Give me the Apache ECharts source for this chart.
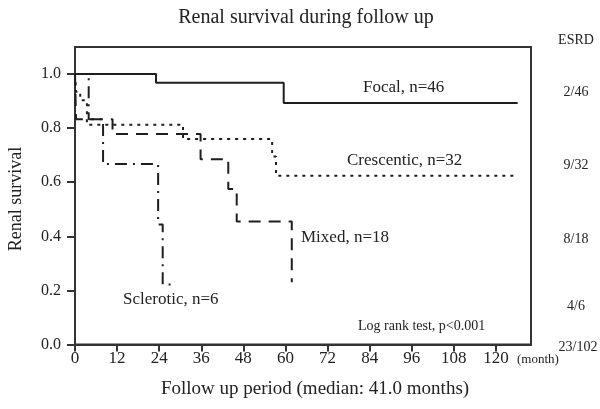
<!DOCTYPE html>
<html>
<head>
<meta charset="utf-8">
<script src="https://cdn.jsdelivr.net/npm/echarts@6/dist/echarts.min.js"></script>
<style>
html,body{margin:0;padding:0;background:#fff;}
#chart{width:600px;height:409px;}
</style>
</head>
<body>
<div id="chart"></div>
<script>
// Kaplan-Meier steps: [month, survival]
var focal = [[0,1.0],[23.1,0.968],[59.5,0.893],[126.2,0.893]];
var crescentic = [[0,1.0],[0.3,0.935],[1.5,0.903],[3.4,0.8125],[30.8,0.76],[56.2,0.695],[57.3,0.624],[126.2,0.624]];
var mixed = [[0,1.0],[0.3,0.833],[10.7,0.778],[35.8,0.685],[43.7,0.575],[46.1,0.455],[61.8,0.23]];
var sclerotic = [[0,1.0],[3.9,0.833],[8.0,0.667],[23.7,0.444],[25.0,0.222],[28.8,0.222]];

var xTicks = [0,12,24,36,48,60,72,84,96,108,120];
var yTicks = [0,0.2,0.4,0.6,0.8,1.0];

var seriesNames = ['Focal, n=46','Crescentic, n=32','Mixed, n=18','Sclerotic, n=6'];
var esrdHeader = 'ESRD';
var esrdLabels = ['2/46','9/32','8/18','4/6','23/102'];
var titleText = 'Renal survival during follow up';
var xName = 'Follow up period (median: 41.0 months)';
var yName = 'Renal survival';
var unitText = '(month)';
var testText = 'Log rank test, p<0.001';

var FONT = '"Liberation Serif", "Times New Roman", serif';
var INK = '#222';

function txt(text, x, y, size, align, extra){
  var o = {type:'text', x:x, y:y, silent:true,
    style:{text:text, fontSize:size, fontFamily:FONT, fill:INK,
      align:align||'left', verticalAlign:'middle'}};
  if (extra) for (var k in extra) o[k]=extra[k];
  return o;
}

var chart = echarts.init(document.getElementById('chart'), null, {renderer:'canvas'});
var lineBase = {type:'line', step:'end', symbol:'none', animation:false, silent:true};
function ser(name, data, type){
  var s = Object.assign({}, lineBase);
  s.name = name; s.data = data;
  s.lineStyle = {color:'#1e1e1e', width:2, type:type};
  return s;
}

chart.setOption({
  animation:false,
  backgroundColor:'#fff',
  grid:{left:75, right:69, top:47, bottom:64.5, show:true, borderColor:'#333', borderWidth:2, backgroundColor:'transparent'},
  xAxis:{type:'value', min:0, max:130,
    axisLine:{show:true, lineStyle:{color:'#333', width:2}},
    axisTick:{show:true, inside:false, length:7, lineStyle:{color:'#333', width:2}, customValues:xTicks},
    axisLabel:{fontFamily:FONT, fontSize:17, color:INK, margin:6, customValues:xTicks},
    splitLine:{show:false}},
  yAxis:{type:'value', min:0, max:1.1,
    axisLine:{show:true, lineStyle:{color:'#333', width:2}},
    axisTick:{show:true, inside:false, length:8, lineStyle:{color:'#333', width:2}, customValues:yTicks},
    axisLabel:{fontFamily:FONT, fontSize:16, color:INK, margin:14, customValues:yTicks,
      formatter:function(v){return v.toFixed(1);}},
    splitLine:{show:false}},
  series:[
    ser(seriesNames[0], focal, 'solid'),
    ser(seriesNames[1], crescentic, [3,5]),
    ser(seriesNames[2], mixed, [12,8]),
    ser(seriesNames[3], sclerotic, [12,6,2,6])
  ],
  graphic:[
    txt(titleText, 306, 18, 20, 'center'),
    txt(yName, 16, 199, 18, 'center', {rotation:Math.PI/2}),
    txt(xName, 315, 389, 19, 'center'),
    txt(unitText, 517, 360, 13, 'left'),
    txt(seriesNames[0], 363, 88, 17, 'left'),
    txt(seriesNames[1], 347, 161, 17, 'left'),
    txt(seriesNames[2], 301, 238, 17, 'left'),
    txt(seriesNames[3], 123, 300, 17, 'left'),
    txt(testText, 358, 326, 14, 'left'),
    txt(esrdHeader, 576, 40, 14, 'center'),
    txt(esrdLabels[0], 576, 92, 14, 'center'),
    txt(esrdLabels[1], 576, 165, 14, 'center'),
    txt(esrdLabels[2], 576, 239, 14, 'center'),
    txt(esrdLabels[3], 576, 306, 14, 'center'),
    txt(esrdLabels[4], 578, 347, 14, 'center')
  ]
});
</script>
</body>
</html>
